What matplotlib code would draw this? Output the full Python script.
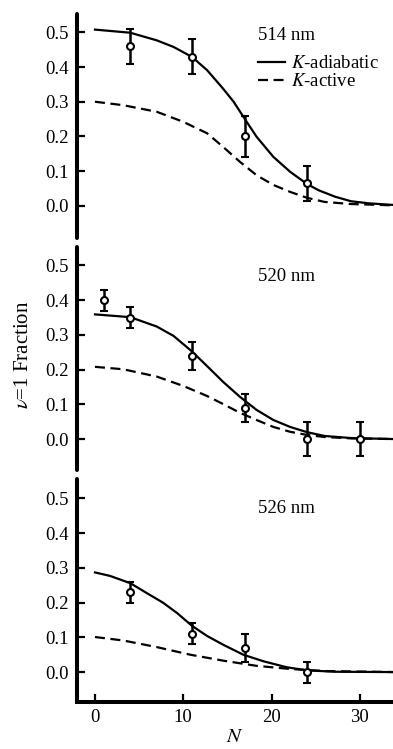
import matplotlib
matplotlib.use("Agg")
import matplotlib.pyplot as plt
from matplotlib.lines import Line2D

plt.rcParams['font.family'] = ['Liberation Serif', 'DejaVu Serif']
plt.rcParams['mathtext.fontset'] = 'stix'

# ---- data ----
wavelength_labels = ["514 nm", "520 nm", "526 nm"]

# measured points
pts_N = [[4, 11, 17, 24], [1, 4, 11, 17, 24, 30], [4, 11, 17, 24]]
pts_y = [[0.46, 0.43, 0.20, 0.065],
         [0.40, 0.35, 0.24, 0.09, 0.0, 0.0],
         [0.23, 0.11, 0.07, 0.0]]
pts_err = [[0.05, 0.05, 0.06, 0.05],
           [0.03, 0.03, 0.04, 0.04, 0.05, 0.05],
           [0.03, 0.03, 0.04, 0.03]]

# model curves
adi_N = [[0, 4, 7, 8.9, 11, 12.7, 14.5, 15.7, 17, 18.3, 20.2, 22.1, 24, 25.3, 27.2, 29, 31, 34],
         [0, 4, 7, 8.9, 11, 12.7, 14.5, 16.4, 18.3, 20.2, 22.1, 24, 26, 29, 34],
         [0, 1.7, 4, 5.9, 7.7, 9.3, 11, 12.7, 14.5, 16.8, 19.1, 21.7, 24, 27.2, 34]]
adi_y = [[0.508, 0.499, 0.477, 0.458, 0.429, 0.391, 0.338, 0.300, 0.249, 0.199,
          0.141, 0.098, 0.063, 0.045, 0.026, 0.013, 0.007, 0.002],
         [0.359, 0.351, 0.324, 0.297, 0.252, 0.210, 0.165, 0.122, 0.084, 0.055,
          0.035, 0.020, 0.009, 0.003, 0.0],
         [0.287, 0.277, 0.256, 0.227, 0.200, 0.170, 0.133, 0.104, 0.079, 0.050,
          0.031, 0.014, 0.005, 0.001, 0.0]]
act_N = [[0, 3.2, 7, 10, 12.7, 14.5, 16.4, 18.3, 20.2, 22.1, 24, 26, 29, 34],
         [0, 3.2, 7, 10, 12.7, 14.5, 16.4, 18.3, 20.2, 22.1, 24, 26, 29, 34],
         [0, 3.2, 7, 10.8, 14.5, 18.3, 22.1, 26, 34]]
act_y = [[0.300, 0.290, 0.271, 0.242, 0.209, 0.170, 0.127, 0.088, 0.060, 0.040,
          0.023, 0.011, 0.005, 0.001],
         [0.208, 0.201, 0.180, 0.153, 0.124, 0.101, 0.076, 0.055, 0.035, 0.021,
          0.012, 0.006, 0.002, 0.0],
         [0.101, 0.091, 0.072, 0.050, 0.033, 0.018, 0.009, 0.003, 0.0]]

yticks = [0.0, 0.1, 0.2, 0.3, 0.4, 0.5]
xticks = [0, 10, 20, 30]

# ---- layout ----
W, H = 393, 749
fig = plt.figure(figsize=(W / 100, H / 100), dpi=100)
panels_px = [(14, 238), (247, 470), (479, 702.3)]
ylims = [(-0.093, 0.553), (-0.089, 0.553), (-0.087, 0.556)]
left = 77.3 / W

FS = 13.5
SPW = 2.9
DASH = (0, (4.5, 2.5))
axes = []
for i, (top, bot) in enumerate(panels_px):
    ax = fig.add_axes([left, (H - bot) / H, 1 - left, (bot - top) / H])
    axes.append(ax)
    ax.set_xlim(-2.0, 33.75)
    ax.set_ylim(*ylims[i])
    for s in ['top', 'right']:
        ax.spines[s].set_visible(False)
    ax.spines['left'].set_linewidth(SPW)
    ax.spines['left'].set_capstyle('round')
    ax.set_yticks(yticks)
    ax.set_yticklabels([f"{v:.1f}" for v in yticks])
    ax.tick_params(axis='y', direction='in', length=6, width=1.6, pad=6, labelsize=FS)
    if i < 2:
        ax.spines['bottom'].set_visible(False)
        ax.set_xticks([])
    else:
        ax.spines['bottom'].set_linewidth(SPW)
        ax.spines['bottom'].set_capstyle('projecting')
        ax.set_xticks(xticks)
        ax.tick_params(axis='x', direction='in', length=6, width=1.6, pad=5, labelsize=FS)
        ax.set_xlabel(r"$N$", fontsize=15, labelpad=1)
    ax.patch.set_visible(False)

    ax.plot(adi_N[i], adi_y[i], color='black', lw=1.6, solid_joinstyle='round')
    ax.plot(act_N[i], act_y[i], color='black', lw=1.6, linestyle=DASH)
    ax.errorbar(pts_N[i], pts_y[i], yerr=pts_err[i], fmt='o', color='black',
                mfc='white', mec='black', ms=5, mew=1.5, elinewidth=1.8,
                capsize=2.6, capthick=1.8, zorder=5)
    ty = [0.49, 0.469, 0.472][i]
    ax.text(18.46, ty, wavelength_labels[i], fontsize=FS, ha='left', va='center')

handles = [Line2D([], [], color='black', lw=1.6),
           Line2D([], [], color='black', lw=1.6, linestyle=DASH)]
axes[0].legend(handles, [r"$K$-adiabatic", r"$K$-active"], frameon=False, fontsize=FS,
               loc='upper left', bbox_to_anchor=(0.56, 0.833),
               handlelength=1.46, handletextpad=0.3, labelspacing=0.05, borderpad=0.2,
               borderaxespad=0.0)

fig.text(24 / W, 1 - 355 / H, r"$\nu$=1 Fraction", rotation=90, fontsize=15,
         ha='center', va='center')

fig.savefig("out.png", dpi=100)
